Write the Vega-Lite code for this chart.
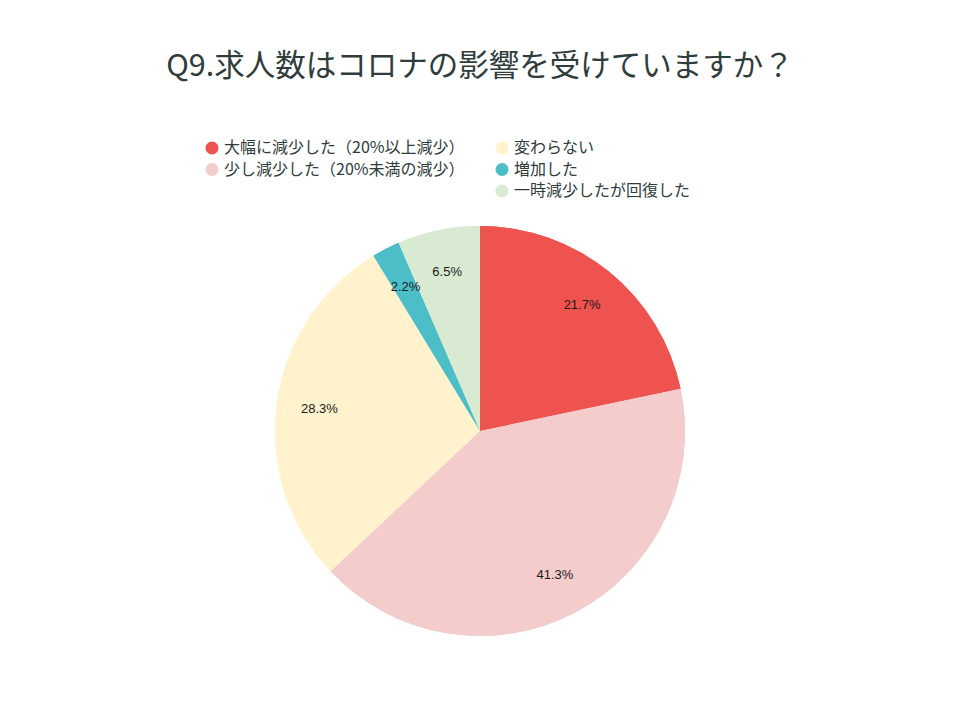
{
  "$schema": "https://vega.github.io/schema/vega-lite/v6.json",
  "width": 410,
  "height": 410,
  "autosize": "none",
  "padding": {"left": 275, "top": 226, "right": 275, "bottom": 84},
  "background": "white",
  "title": {
    "text": "Q9.求人数はコロナの影響を受けていますか？",
    "font": "Noto Sans CJK JP",
    "fontSize": 30.5,
    "fontWeight": "normal",
    "color": "#2f3c3c",
    "anchor": "middle",
    "offset": 58
  },
  "data": {
    "values": [
      {"category": "大幅に減少した（20%以上減少）", "value": 0.217, "order": 1},
      {"category": "少し減少した（20%未満の減少）", "value": 0.413, "order": 2},
      {"category": "変わらない", "value": 0.283, "order": 3},
      {"category": "増加した", "value": 0.022, "order": 4},
      {"category": "一時減少したが回復した", "value": 0.065, "order": 5}
    ]
  },
  "encoding": {
    "theta": {"field": "value", "type": "quantitative", "stack": true},
    "order": {"field": "order", "type": "quantitative"}
  },
  "layer": [
    {
      "mark": {"type": "arc", "outerRadius": 205},
      "encoding": {
        "color": {
          "field": "category",
          "type": "nominal",
          "scale": {
            "domain": ["大幅に減少した（20%以上減少）", "少し減少した（20%未満の減少）", "変わらない", "増加した", "一時減少したが回復した"],
            "range": ["#ef5350", "#f4cccc", "#fff2cc", "#4bbec8", "#d9ead3"]
          },
          "legend": {
            "values": ["大幅に減少した（20%以上減少）", "少し減少した（20%未満の減少）"],
            "orient": "none",
            "legendX": -71,
            "legendY": -86
          }
        }
      }
    },
    {
      "mark": {"type": "arc", "outerRadius": 205},
      "encoding": {
        "color": {
          "field": "category",
          "type": "nominal",
          "scale": {
            "domain": ["大幅に減少した（20%以上減少）", "少し減少した（20%未満の減少）", "変わらない", "増加した", "一時減少したが回復した"],
            "range": ["#ef5350", "#f4cccc", "#fff2cc", "#4bbec8", "#d9ead3"]
          },
          "legend": {
            "values": ["変わらない", "増加した", "一時減少したが回復した"],
            "orient": "none",
            "legendX": 219,
            "legendY": -86
          }
        }
      }
    },
    {
      "mark": {"type": "text", "radius": 162, "font": "Liberation Sans", "fontSize": 13, "color": "#1a1a1a"},
      "encoding": {
        "text": {"field": "value", "type": "quantitative", "format": ".1%"}
      }
    }
  ],
  "resolve": {"scale": {"color": "independent"}, "legend": {"color": "independent"}},
  "config": {
    "view": {"stroke": null},
    "legend": {
      "title": null,
      "symbolType": "circle",
      "symbolSize": 170,
      "symbolStrokeWidth": 0,
      "symbolOpacity": 1,
      "labelFont": "Noto Sans CJK JP",
      "labelFontSize": 16,
      "labelColor": "#2f3c3c",
      "labelOffset": 4,
      "rowPadding": 5.5,
      "labelLimit": 400
    }
  }
}
